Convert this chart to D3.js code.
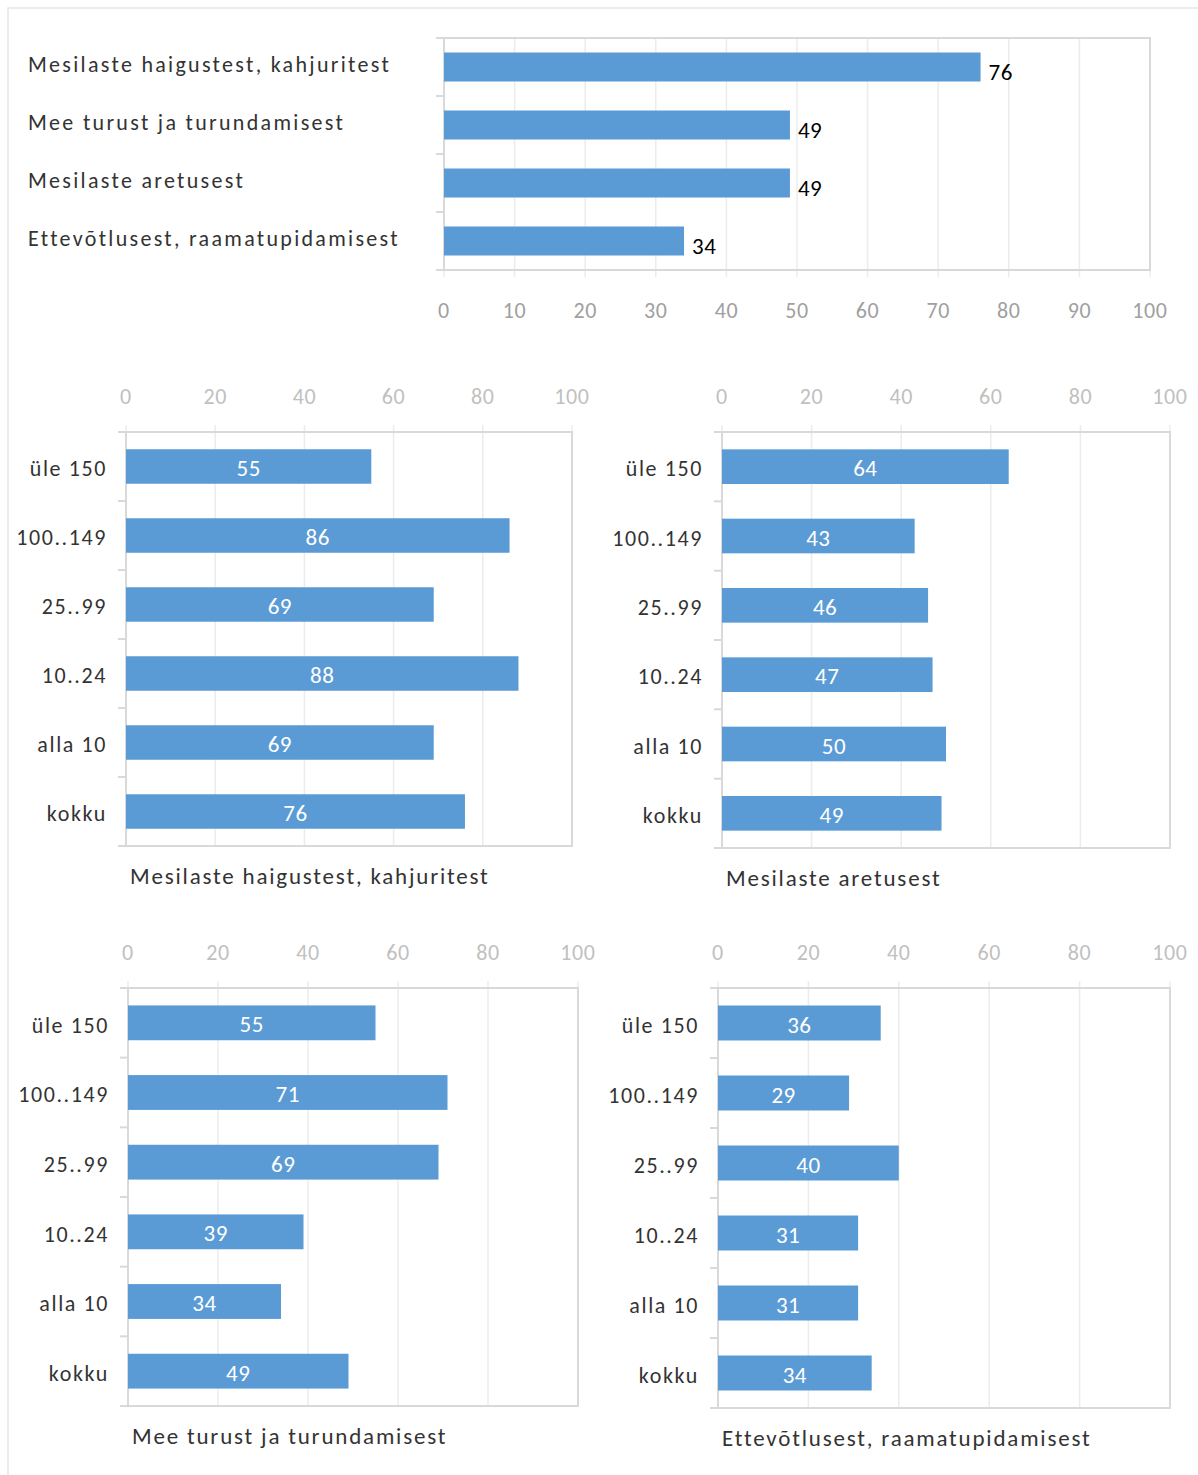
<!DOCTYPE html>
<html>
<head>
<meta charset="utf-8">
<script src="https://cdn.jsdelivr.net/npm/d3@7"></script>
<style>
  body { margin: 0; background: #fff; }
  svg { font-family: Carlito, Lato, 'Liberation Sans', sans-serif; }
  .grid line { stroke: #ececec; }
  .frame { fill: none; stroke: #d9d9d9; stroke-width: 2; }
</style>
</head>
<body>
<script>
// summary chart
var topCats = ['Mesilaste haigustest, kahjuritest', 'Mee turust ja turundamisest',
  'Mesilaste aretusest', 'Ettevõtlusest, raamatupidamisest']
var topValues = [76, 49, 49, 34]

// breakdown by number of colonies
var groups = ['üle 150', '100..149', '25..99', '10..24', 'alla 10', 'kokku']
var haigused = [55, 86, 69, 88, 69, 76]
var aretus = [64, 43, 46, 47, 50, 49]
var turg = [55, 71, 69, 39, 34, 49]
var ettevotlus = [36, 29, 40, 31, 31, 34]

var barColor = '#5b9bd5'

var svg = d3.select('body').append('svg')
  .attr('width', 1198)
  .attr('height', 1475)

// outer border of the sheet
svg.append('path')
  .attr('d', 'M8,1475V8H1198')
  .attr('fill', 'none')
  .attr('stroke', '#e6e6e6')
  .attr('stroke-width', 1.5)

function drawChart (opt) {
  var g = svg.append('g')
  var x = d3.scaleLinear().domain([0, 100]).range([opt.x0, opt.x1])
  var y = d3.scaleBand().domain(opt.cats).range([opt.y0, opt.y1]).paddingInner(0.5).paddingOuter(0.25)
  var ticks = d3.range(0, 101, opt.step)

  // vertical gridlines
  g.append('g').attr('class', 'grid')
    .selectAll('line').data(ticks).enter().append('line')
    .attr('x1', function (d) { return x(d) })
    .attr('x2', function (d) { return x(d) })
    .attr('y1', opt.axisTop ? opt.y0 - 7 : opt.y0)
    .attr('y2', opt.axisTop ? opt.y1 : opt.y1 + 7)
    .attr('stroke-width', 1.5)

  // plot frame
  g.append('rect').attr('class', 'frame')
    .attr('x', opt.x0).attr('y', opt.y0)
    .attr('width', opt.x1 - opt.x0).attr('height', opt.y1 - opt.y0)

  // category separators on the left axis
  var bounds = opt.cats.map(function (c) { return y(c) - y.step() * 0.25 })
  bounds.push(opt.y1)
  g.append('g').selectAll('line').data(bounds).enter().append('line')
    .attr('x1', opt.x0 - 8).attr('x2', opt.x0)
    .attr('y1', function (d) { return d }).attr('y2', function (d) { return d })
    .attr('stroke', '#d9d9d9').attr('stroke-width', 2)

  // axis tick labels
  g.append('g').selectAll('text').data(ticks).enter().append('text')
    .attr('x', function (d) { return x(d) })
    .attr('y', opt.tickY)
    .attr('text-anchor', 'middle')
    .attr('fill', opt.tickColor)
    .attr('font-size', 22)
    .attr('letter-spacing', 0.6)
    .text(function (d) { return d })

  // bars
  g.append('g').selectAll('rect').data(opt.values).enter().append('rect')
    .attr('x', x(0))
    .attr('y', function (d, i) { return y(opt.cats[i]) })
    .attr('width', function (d) { return x(d) - x(0) })
    .attr('height', y.bandwidth())
    .attr('fill', barColor)

  // value labels
  g.append('g').selectAll('text').data(opt.values).enter().append('text')
    .attr('x', function (d) { return opt.inside ? (x(0) + x(d)) / 2 : x(d) + 8 })
    .attr('y', function (d, i) { return y(opt.cats[i]) + y.bandwidth() / 2 })
    .attr('dy', opt.inside ? '0.42em' : '0.55em')
    .attr('text-anchor', opt.inside ? 'middle' : 'start')
    .attr('fill', opt.inside ? '#fff' : '#000')
    .attr('font-size', 23)
    .attr('letter-spacing', 0.5)
    .text(function (d) { return d })

  // category labels
  g.append('g').selectAll('text').data(opt.cats).enter().append('text')
    .attr('x', opt.labelX)
    .attr('y', function (d) { return y(d) + y.bandwidth() / 2 + (opt.labelShift || 0) })
    .attr('dy', '0.35em')
    .attr('text-anchor', opt.labelAnchor)
    .attr('fill', '#333')
    .attr('font-size', opt.labelSize)
    .attr('letter-spacing', opt.labelSpacing)
    .text(function (d) { return d })

  if (opt.title) {
    g.append('text')
      .attr('x', opt.x0 + 4)
      .attr('y', opt.y1 + 38)
      .attr('fill', '#333')
      .attr('font-size', 23)
      .attr('letter-spacing', 1.8)
      .text(opt.title)
  }
}

drawChart({ cats: topCats, values: topValues, x0: 444, x1: 1150, y0: 38, y1: 270,
  step: 10, tickY: 318, tickColor: '#a0a0a0', labelX: 28, labelAnchor: 'start',
  labelSize: 22, labelSpacing: 2.3, labelShift: -3, inside: false, axisTop: false })

drawChart({ cats: groups, values: haigused, x0: 126, x1: 572, y0: 432, y1: 846,
  step: 20, tickY: 404, tickColor: '#c0c0c0', labelX: 107, labelAnchor: 'end',
  labelSize: 22, labelSpacing: 1.6, labelShift: 2, inside: true, axisTop: true,
  title: 'Mesilaste haigustest, kahjuritest' })

drawChart({ cats: groups, values: aretus, x0: 722, x1: 1170, y0: 432, y1: 848,
  step: 20, tickY: 404, tickColor: '#c0c0c0', labelX: 703, labelAnchor: 'end',
  labelSize: 22, labelSpacing: 1.6, labelShift: 2, inside: true, axisTop: true,
  title: 'Mesilaste aretusest' })

drawChart({ cats: groups, values: turg, x0: 128, x1: 578, y0: 988, y1: 1406,
  step: 20, tickY: 960, tickColor: '#c0c0c0', labelX: 109, labelAnchor: 'end',
  labelSize: 22, labelSpacing: 1.6, labelShift: 2, inside: true, axisTop: true,
  title: 'Mee turust ja turundamisest' })

drawChart({ cats: groups, values: ettevotlus, x0: 718, x1: 1170, y0: 988, y1: 1408,
  step: 20, tickY: 960, tickColor: '#c0c0c0', labelX: 699, labelAnchor: 'end',
  labelSize: 22, labelSpacing: 1.6, labelShift: 2, inside: true, axisTop: true,
  title: 'Ettevõtlusest, raamatupidamisest' })
</script>
</body>
</html>
